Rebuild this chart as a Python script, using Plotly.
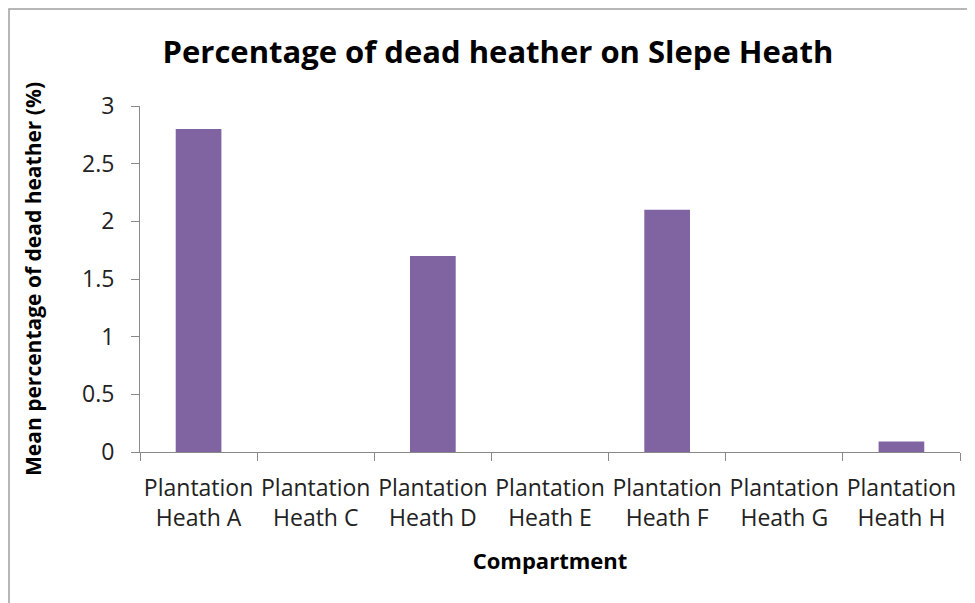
import plotly.graph_objects as go

categories = ["Plantation<br>Heath A", "Plantation<br>Heath C", "Plantation<br>Heath D",
              "Plantation<br>Heath E", "Plantation<br>Heath F", "Plantation<br>Heath G",
              "Plantation<br>Heath H"]
values = [2.8, 0, 1.7, 0, 2.1, 0, 0.09]
y_ticks = [0, 0.5, 1, 1.5, 2, 2.5, 3]
y_tick_labels = ["0", "0.5", "1", "1.5", "2", "2.5", "3"]

# page is rendered with an 8px body margin, so figure coords = page coords - 8
W, H = 967, 595
L, R, T, B = 132, 15, 98, 151
pw, ph = W - L - R, H - T - B

def px(x):
    return (x - L) / pw

def py(y):
    return (H - B - y) / ph

fig = go.Figure(go.Bar(x=categories, y=values, marker_color="#8064A2",
                       marker_line_width=0))

axis_col = "#898989"
font_family = "Open Sans"
fig.update_layout(
    width=W, height=H,
    margin=dict(l=L, r=R, t=T, b=B, autoexpand=False),
    paper_bgcolor="white", plot_bgcolor="white",
    bargap=0.61,
    showlegend=False,
    font=dict(family=font_family, color="#000000"),
    title=dict(text="<b>Percentage of dead heather on Slepe Heath</b>",
               x=490 / W, xanchor="center", y=1 - 44 / H, yanchor="middle",
               font=dict(size=31, family=font_family, color="#000000")),
    xaxis=dict(
        showline=True, linecolor=axis_col, linewidth=1,
        ticks="outside", ticklen=8, tickcolor=axis_col,
        tickson="boundaries", ticklabelstandoff=15, tickangle=0,
        tickfont=dict(size=23, color="#222222"),
        title=dict(text="<b>Compartment</b>", font=dict(size=22), standoff=22),
        showgrid=False, zeroline=False,
    ),
    yaxis=dict(
        range=[0, 3], tickvals=y_ticks, ticktext=y_tick_labels,
        showline=True, linecolor=axis_col, linewidth=1,
        ticks="outside", ticklen=8, tickcolor=axis_col,
        ticklabelstandoff=12,
        tickfont=dict(size=23, color="#222222"),
        title=dict(text="<b>Mean percentage of dead heather (%)</b>",
                   font=dict(size=21), standoff=34),
        showgrid=False, zeroline=False,
    ),
    shapes=[dict(type="rect", xref="paper", yref="paper",
                 x0=px(1), x1=px(W + 20), y0=py(H + 20), y1=py(1),
                 line=dict(color="#a0a0a0", width=1.5), fillcolor="rgba(0,0,0,0)")],
)

fig.write_html("out.html")
